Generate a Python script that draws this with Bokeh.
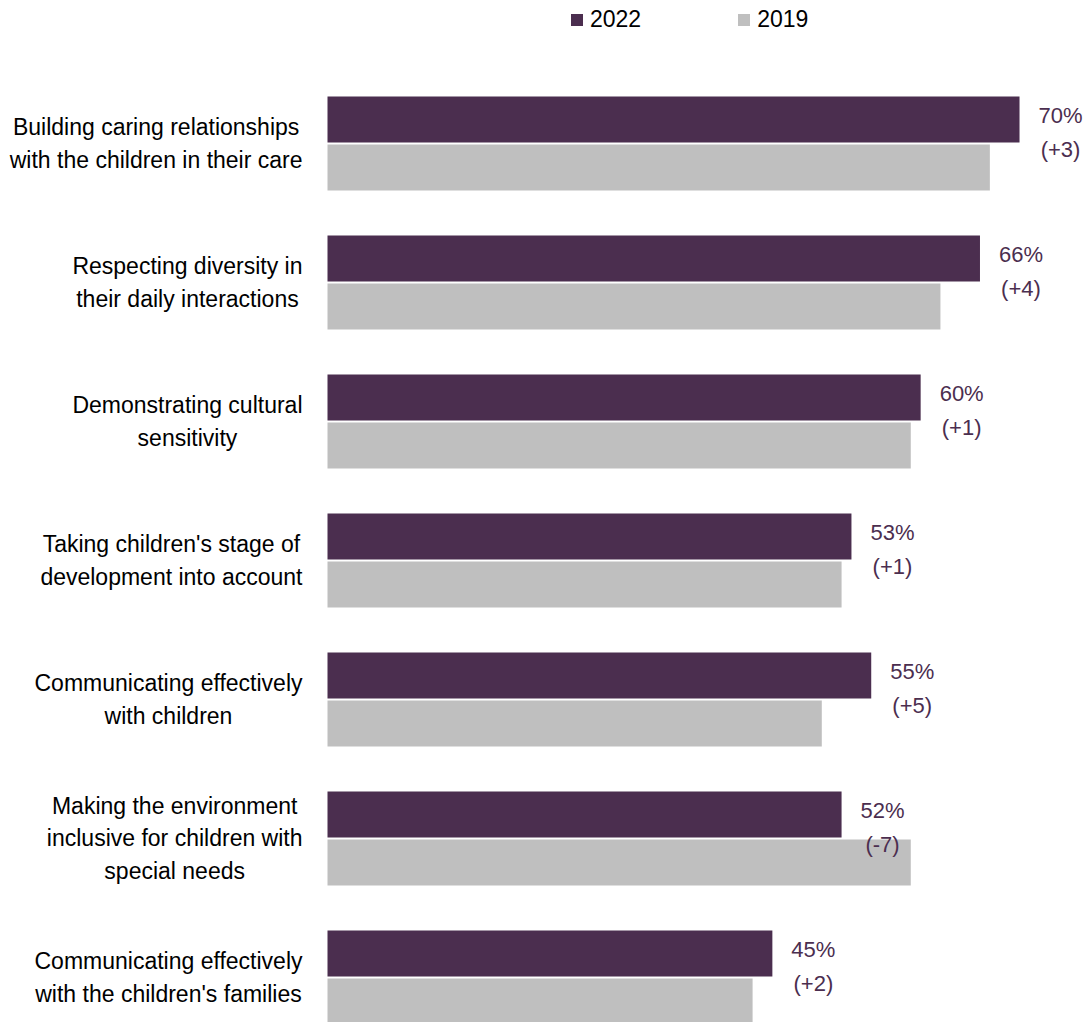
from bokeh.plotting import figure
from bokeh.models import ColumnDataSource, Range1d, Legend, LegendItem
from bokeh.transform import dodge
from bokeh.core.properties import value
from bokeh.embed import file_html
from bokeh.resources import INLINE

# ---------------- data ----------------
categories = [
    "Building caring relationships\nwith the children in their care",
    "Respecting diversity in\ntheir daily interactions",
    "Demonstrating cultural\nsensitivity",
    "Taking children's stage of\ndevelopment into account",
    "Communicating effectively\nwith children",
    "Making the environment\ninclusive for children with\nspecial needs",
    "Communicating effectively\nwith the children's families",
]
values_2022 = [70, 66, 60, 53, 55, 52, 45]
values_2019 = [67, 62, 59, 52, 50, 59, 43]
changes = ["(+3)", "(+4)", "(+1)", "(+1)", "(+5)", "(-7)", "(+2)"]
series_names = ["2022", "2019"]

# ---------------- style ----------------
PURPLE = "#4B2E4F"
GRAY = "#BFBFBF"
FONT_NAME = "Liberation Sans"
FONT = value(FONT_NAME)

W, H = 1084, 1022
PX_PER_UNIT = 9.886
ROW_PX = 139.0
x_start = -327 / PX_PER_UNIT
y_top = 143 / ROW_PX
y_bottom = -(H - 143) / ROW_PX

n = len(categories)
src = ColumnDataSource(dict(
    y=[-i for i in range(n)],
    zero=[0] * n,
    cat=categories,
    v22=values_2022,
    v19=values_2019,
    lab=[f"{v}%\n{c}" for v, c in zip(values_2022, changes)],
))

p = figure(
    width=W, height=H,
    x_range=Range1d(x_start, x_start + W / PX_PER_UNIT),
    y_range=Range1d(y_bottom, y_top),
    output_backend="svg", toolbar_location=None,
    min_border=0,
)
p.xaxis.visible = False
p.yaxis.visible = False
p.xgrid.visible = False
p.ygrid.visible = False
p.outline_line_color = None
p.background_fill_color = "white"
p.border_fill_color = "white"

BAR_H = 46 / ROW_PX
OFF = 24 / ROW_PX

r22 = p.hbar(y=dodge("y", OFF), left="zero", right="v22", height=BAR_H,
             fill_color=PURPLE, line_color=None, source=src)
r19 = p.hbar(y=dodge("y", -OFF), left="zero", right="v19", height=BAR_H,
             fill_color=GRAY, line_color=None, source=src)

# category labels
p.text(x="zero", y="y", text="cat", x_offset=-25, anchor="center_right",
       text_align="center", text_baseline="middle",
       text_font=FONT, text_font_size="23px", text_color="#000000",
       text_line_height=1.26, source=src)

# value labels
p.text(x="v22", y="y", text="lab", x_offset=41, y_offset=-11,
       text_align="center", text_baseline="middle",
       text_font=FONT, text_font_size="22px", text_color=PURPLE,
       text_line_height=1.34, source=src)

legend = Legend(
    items=[LegendItem(label=series_names[0], renderers=[r22]),
           LegendItem(label=series_names[1], renderers=[r19])],
    orientation="horizontal",
    location=(569, H - 33),
    glyph_width=15, glyph_height=15,
    label_standoff=6, spacing=95,
    padding=0, margin=0,
    border_line_color=None, background_fill_alpha=0,
    label_text_font=FONT_NAME, label_text_font_size="23px", label_text_color="#000000",
)
p.add_layout(legend)

open("out.html", "w").write(file_html(p, INLINE))
